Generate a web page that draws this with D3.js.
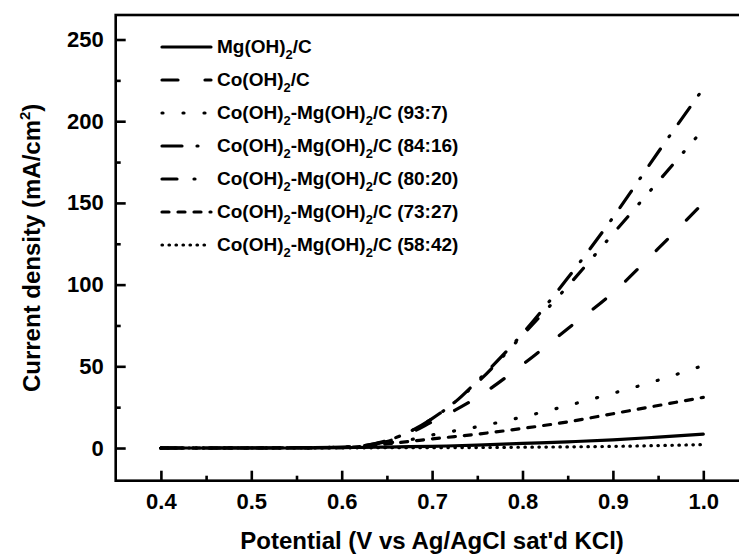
<!DOCTYPE html>
<html>
<head>
<meta charset="utf-8">
<script src="https://cdn.jsdelivr.net/npm/d3@7"></script>
<style>
  body { margin: 0; background: #fff; }
  svg { display: block; }
</style>
</head>
<body>
<div id="chart"></div>
<script>
"use strict";

// Data
let potential = [0.4, 0.45, 0.5, 0.55, 0.6, 0.625, 0.65, 0.675, 0.7, 0.725, 0.75, 0.8, 0.85, 0.9, 0.95, 1.0];

let mgC      = [0, 0, 0, 0, 0.2, 0.4, 0.6, 0.8, 1.0, 1.4, 1.8, 2.8, 3.8, 5, 6.7, 8.5];
let coC      = [0, 0, 0.1, 0.2, 0.6, 1.5, 4, 9, 16, 23, 31, 51, 73, 95, 122, 150];
let co93     = [0, 0, 0, 0.1, 0.3, 1, 3, 5, 8, 10.5, 13, 19, 26, 33.5, 41.5, 50.5];
let co84     = [0, 0, 0.1, 0.2, 0.6, 1.5, 4.5, 10, 18, 28, 41, 70, 104, 141, 181, 220];
let co80     = [0, 0, 0.1, 0.2, 0.6, 1.5, 4.5, 10, 18, 28, 40, 69, 99, 131, 163, 195];
let co73     = [0, 0, 0, 0.1, 0.3, 1, 2.5, 4, 5.6, 7, 8.5, 12, 16, 21, 26, 31];
let co58     = [0, 0, 0, 0, 0.1, 0.1, 0.2, 0.2, 0.2, 0.3, 0.3, 0.5, 0.7, 1.0, 1.5, 2.1];

let seriesNames = [
    "Mg(OH)2/C",
    "Co(OH)2/C",
    "Co(OH)2-Mg(OH)2/C (93:7)",
    "Co(OH)2-Mg(OH)2/C (84:16)",
    "Co(OH)2-Mg(OH)2/C (80:20)",
    "Co(OH)2-Mg(OH)2/C (73:27)",
    "Co(OH)2-Mg(OH)2/C (58:42)"
];
let seriesValues = [mgC, coC, co93, co84, co80, co73, co58];

let xTicks = [0.4, 0.5, 0.6, 0.7, 0.8, 0.9, 1.0];
let xMinorTicks = [0.45, 0.55, 0.65, 0.75, 0.85, 0.95];
let yTicks = [0, 50, 100, 150, 200, 250];
let yMinorTicks = [25, 75, 125, 175, 225];

// line styles, round caps (dash lengths shortened for the caps)
let dashes = [
    null,
    "16,27",
    "1,20",
    "20,15,1,15",
    "15,17,1,17,1,17",
    "7,9",
    "0.5,6.5"
];

// Setup
let svgWidth = 739;
let svgHeight = 554;

let plotLeft = 115.7;
let plotRight = 748.5;
let plotTop = 15;
let plotBottom = 480.7;

let font = "'Liberation Sans', Arial, Helvetica, sans-serif";

let svg = d3.select("#chart")
    .append("svg")
    .attr("width", svgWidth)
    .attr("height", svgHeight)
    .style("overflow", "hidden");

svg.append("rect")
    .attr("width", svgWidth)
    .attr("height", svgHeight)
    .attr("fill", "white");

// Scales
let xScale = d3.scaleLinear()
    .domain([0.35, 1.05])
    .range([plotLeft, plotRight]);

let yScale = d3.scaleLinear()
    .domain([-20, 265])
    .range([plotBottom, plotTop]);

// Curves
let line = d3.line()
    .x((d, i) => xScale(potential[i]))
    .y(d => yScale(d))
    .curve(d3.curveMonotoneX);

svg.append("g")
    .selectAll("path")
    .data(seriesValues)
    .join("path")
    .attr("d", d => line(d))
    .attr("fill", "none")
    .attr("stroke", "black")
    .attr("stroke-width", 3.2)
    .attr("stroke-linecap", "round")
    .attr("stroke-dasharray", (d, i) => dashes[i]);

// Axes (ticks point inward)
function styleAxis(g) {
    g.select(".domain").remove();
    g.selectAll(".tick line")
        .attr("stroke", "black")
        .attr("stroke-width", 2.6);
    g.selectAll(".tick text")
        .attr("fill", "black")
        .attr("font-family", font)
        .attr("font-weight", "bold")
        .attr("font-size", 22);
}

svg.append("g")
    .attr("transform", `translate(0, ${plotBottom})`)
    .call(d3.axisBottom(xScale)
        .tickValues(xTicks)
        .tickFormat(d3.format(".1f"))
        .tickSize(-10)
        .tickPadding(13))
    .call(styleAxis);

svg.append("g")
    .attr("transform", `translate(0, ${plotBottom})`)
    .call(d3.axisBottom(xScale)
        .tickValues(xMinorTicks)
        .tickFormat("")
        .tickSize(-5))
    .call(styleAxis);

svg.append("g")
    .attr("transform", `translate(${plotLeft}, 0)`)
    .call(d3.axisLeft(yScale)
        .tickValues(yTicks)
        .tickSize(-10)
        .tickPadding(12))
    .call(styleAxis);

svg.append("g")
    .attr("transform", `translate(${plotLeft}, 0)`)
    .call(d3.axisLeft(yScale)
        .tickValues(yMinorTicks)
        .tickFormat("")
        .tickSize(-5))
    .call(styleAxis);

// Frame
svg.append("rect")
    .attr("x", plotLeft)
    .attr("y", plotTop)
    .attr("width", plotRight - plotLeft)
    .attr("height", plotBottom - plotTop)
    .attr("fill", "none")
    .attr("stroke", "black")
    .attr("stroke-width", 2.6);

// Axis titles
svg.append("text")
    .attr("x", (plotLeft + plotRight) / 2)
    .attr("y", 549)
    .attr("text-anchor", "middle")
    .attr("font-family", font)
    .attr("font-weight", "bold")
    .attr("font-size", 24)
    .text("Potential (V vs Ag/AgCl sat'd KCl)");

let yTitle = svg.append("text")
    .attr("transform", `translate(40, ${(plotTop + plotBottom) / 2}) rotate(-90)`)
    .attr("text-anchor", "middle")
    .attr("font-family", font)
    .attr("font-weight", "bold")
    .attr("font-size", 24);
yTitle.append("tspan").text("Current density (mA/cm");
yTitle.append("tspan").attr("font-size", 15).attr("dy", -10).text("2");
yTitle.append("tspan").attr("dy", 10).text(")");

// Legend
let legendX = 162;
let legendY = 47;
let legendStep = 33;

seriesNames.forEach((name, i) => {
    let y = legendY + i * legendStep;

    svg.append("line")
        .attr("x1", legendX)
        .attr("x2", legendX + 49)
        .attr("y1", y)
        .attr("y2", y)
        .attr("stroke", "black")
        .attr("stroke-width", 3.2)
        .attr("stroke-linecap", "round")
        .attr("stroke-dasharray", dashes[i]);

    let label = svg.append("text")
        .attr("x", legendX + 55)
        .attr("y", y + 6)
        .attr("font-family", font)
        .attr("font-weight", "bold")
        .attr("font-size", 19);

    // ")2" -> ")" with subscript 2
    let parts = name.split(")2");
    parts.forEach((p, j) => {
        label.append("tspan").text(j < parts.length - 1 ? p + ")" : p)
            .attr("dy", j === 0 ? 0 : -6);
        if (j < parts.length - 1) {
            label.append("tspan")
                .attr("font-size", 13)
                .attr("dy", 6)
                .text("2");
        }
    });
});
</script>
</body>
</html>
